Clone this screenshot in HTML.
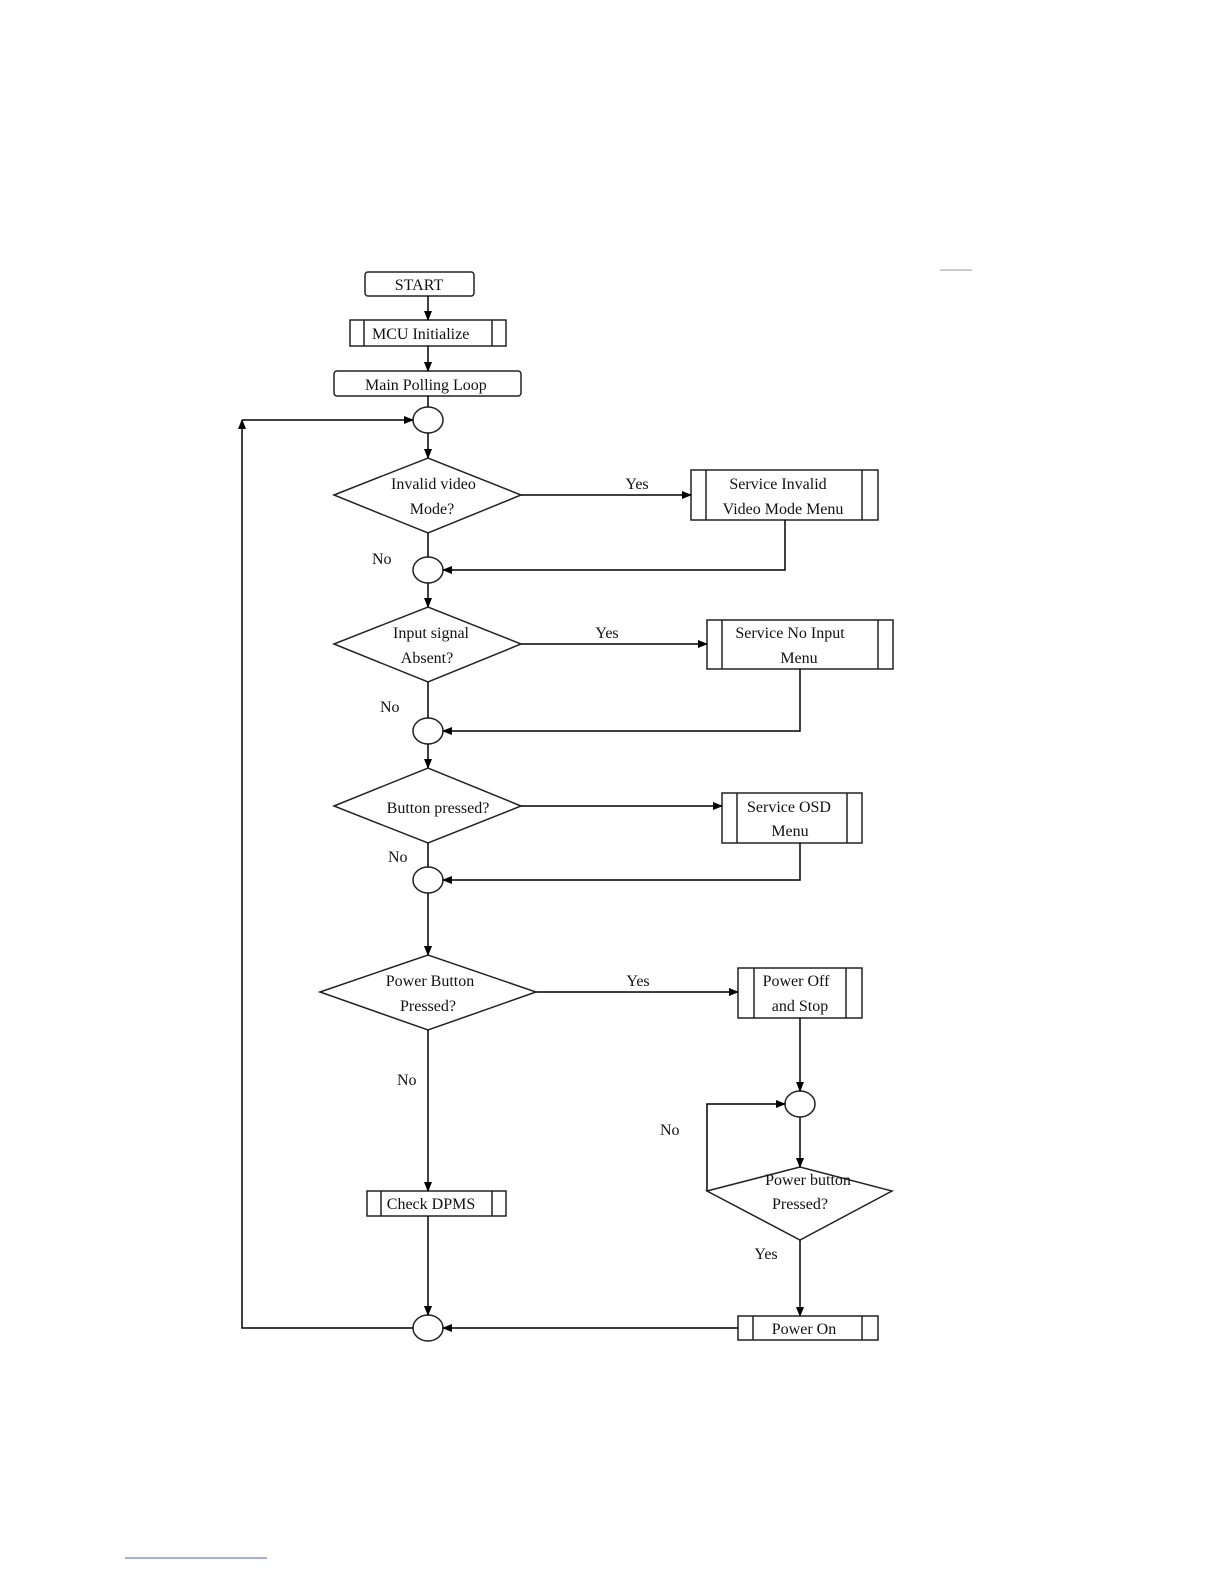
<!DOCTYPE html>
<html><head><style>body{margin:0;background:#fff}svg{display:block}text{font-family:"Liberation Serif",serif;font-size:16px;fill:#111}</style></head>
<body>
<svg width="1224" height="1584" viewBox="0 0 1224 1584">
<defs><marker id="a" markerWidth="10" markerHeight="10" refX="9" refY="5" orient="auto" markerUnits="userSpaceOnUse"><path d="M0,1 L10,5 L0,9z" fill="#000"/></marker></defs>
<g stroke="#222" stroke-width="1.5" fill="none">
<rect x="365" y="272" width="109" height="24" rx="3"/>
<rect x="350" y="320" width="156" height="26"/><line x1="364" y1="320" x2="364" y2="346"/><line x1="492" y1="320" x2="492" y2="346"/>
<rect x="334" y="371" width="187" height="25" rx="3"/>
<ellipse cx="428" cy="420" rx="15" ry="13"/>
<polygon points="334,495 428,458 521,495 428,533"/>
<rect x="691" y="470" width="187" height="50"/><line x1="706" y1="470" x2="706" y2="520"/><line x1="862" y1="470" x2="862" y2="520"/>
<ellipse cx="428" cy="570" rx="15" ry="13"/>
<polygon points="334,644 428,607 521,644 428,682"/>
<rect x="707" y="620" width="186" height="49"/><line x1="722" y1="620" x2="722" y2="669"/><line x1="878" y1="620" x2="878" y2="669"/>
<ellipse cx="428" cy="731" rx="15" ry="13"/>
<polygon points="334,806 428,768 521,806 428,843"/>
<rect x="722" y="793" width="140" height="50"/><line x1="737" y1="793" x2="737" y2="843"/><line x1="847" y1="793" x2="847" y2="843"/>
<ellipse cx="428" cy="880" rx="15" ry="13"/>
<polygon points="320,992 428,955 536,992 428,1030"/>
<rect x="738" y="968" width="124" height="50"/><line x1="754" y1="968" x2="754" y2="1018"/><line x1="846" y1="968" x2="846" y2="1018"/>
<ellipse cx="800" cy="1104" rx="15" ry="13"/>
<polygon points="707,1191 800,1167 892,1191 800,1240"/>
<rect x="738" y="1316" width="140" height="24"/><line x1="753" y1="1316" x2="753" y2="1340"/><line x1="862" y1="1316" x2="862" y2="1340"/>
<rect x="367" y="1191" width="139" height="25"/><line x1="381" y1="1191" x2="381" y2="1216"/><line x1="492" y1="1191" x2="492" y2="1216"/>
<ellipse cx="428" cy="1328" rx="15" ry="13"/>
</g>
<g stroke="#000" stroke-width="1.5" fill="none">
<line x1="428" y1="296" x2="428" y2="320" marker-end="url(#a)"/>
<line x1="428" y1="346" x2="428" y2="371" marker-end="url(#a)"/>
<line x1="428" y1="396" x2="428" y2="407"/>
<line x1="428" y1="433" x2="428" y2="458" marker-end="url(#a)"/>
<line x1="521" y1="495" x2="691" y2="495" marker-end="url(#a)"/>
<line x1="428" y1="533" x2="428" y2="557"/>
<polyline points="785,520 785,570 443,570" marker-end="url(#a)"/>
<line x1="428" y1="583" x2="428" y2="607" marker-end="url(#a)"/>
<line x1="521" y1="644" x2="707" y2="644" marker-end="url(#a)"/>
<line x1="428" y1="682" x2="428" y2="718"/>
<polyline points="800,669 800,731 443,731" marker-end="url(#a)"/>
<line x1="428" y1="744" x2="428" y2="768" marker-end="url(#a)"/>
<line x1="521" y1="806" x2="722" y2="806" marker-end="url(#a)"/>
<line x1="428" y1="843" x2="428" y2="867"/>
<polyline points="800,843 800,880 443,880" marker-end="url(#a)"/>
<line x1="428" y1="893" x2="428" y2="955" marker-end="url(#a)"/>
<line x1="536" y1="992" x2="738" y2="992" marker-end="url(#a)"/>
<line x1="428" y1="1030" x2="428" y2="1191" marker-end="url(#a)"/>
<line x1="800" y1="1018" x2="800" y2="1091" marker-end="url(#a)"/>
<line x1="800" y1="1117" x2="800" y2="1167" marker-end="url(#a)"/>
<polyline points="707,1191 707,1104 785,1104" marker-end="url(#a)"/>
<line x1="800" y1="1240" x2="800" y2="1316" marker-end="url(#a)"/>
<line x1="428" y1="1216" x2="428" y2="1315" marker-end="url(#a)"/>
<line x1="738" y1="1328" x2="443" y2="1328" marker-end="url(#a)"/>
<polyline points="413,1328 242,1328 242,420" marker-end="url(#a)"/>
<line x1="242" y1="420" x2="413" y2="420" marker-end="url(#a)"/>
<line x1="940" y1="270" x2="972" y2="270" stroke="#999" stroke-width="1"/>
<line x1="125" y1="1558" x2="267" y2="1558" stroke="#4060c0" stroke-width="1"/>
</g>
<text x="419" y="290" text-anchor="middle">START</text>
<text x="372" y="339">MCU Initialize</text>
<text x="365" y="390">Main Polling Loop</text>
<text x="391" y="489">Invalid video</text>
<text x="432" y="514" text-anchor="middle">Mode?</text>
<text x="637" y="489" text-anchor="middle">Yes</text>
<text x="778" y="489" text-anchor="middle">Service Invalid</text>
<text x="783" y="514" text-anchor="middle">Video Mode Menu</text>
<text x="372" y="564">No</text>
<text x="431" y="638" text-anchor="middle">Input signal</text>
<text x="427" y="663" text-anchor="middle">Absent?</text>
<text x="607" y="638" text-anchor="middle">Yes</text>
<text x="790" y="638" text-anchor="middle">Service No Input</text>
<text x="799" y="663" text-anchor="middle">Menu</text>
<text x="380" y="712">No</text>
<text x="438" y="813" text-anchor="middle">Button pressed?</text>
<text x="789" y="812" text-anchor="middle">Service OSD</text>
<text x="790" y="836" text-anchor="middle">Menu</text>
<text x="388" y="862">No</text>
<text x="430" y="986" text-anchor="middle">Power Button</text>
<text x="428" y="1011" text-anchor="middle">Pressed?</text>
<text x="638" y="986" text-anchor="middle">Yes</text>
<text x="796" y="986" text-anchor="middle">Power Off</text>
<text x="800" y="1011" text-anchor="middle">and Stop</text>
<text x="397" y="1085">No</text>
<text x="660" y="1135">No</text>
<text x="808" y="1185" text-anchor="middle">Power button</text>
<text x="800" y="1209" text-anchor="middle">Pressed?</text>
<text x="766" y="1259" text-anchor="middle">Yes</text>
<text x="431" y="1209" text-anchor="middle">Check DPMS</text>
<text x="804" y="1334" text-anchor="middle">Power On</text>
</svg>
</body></html>
